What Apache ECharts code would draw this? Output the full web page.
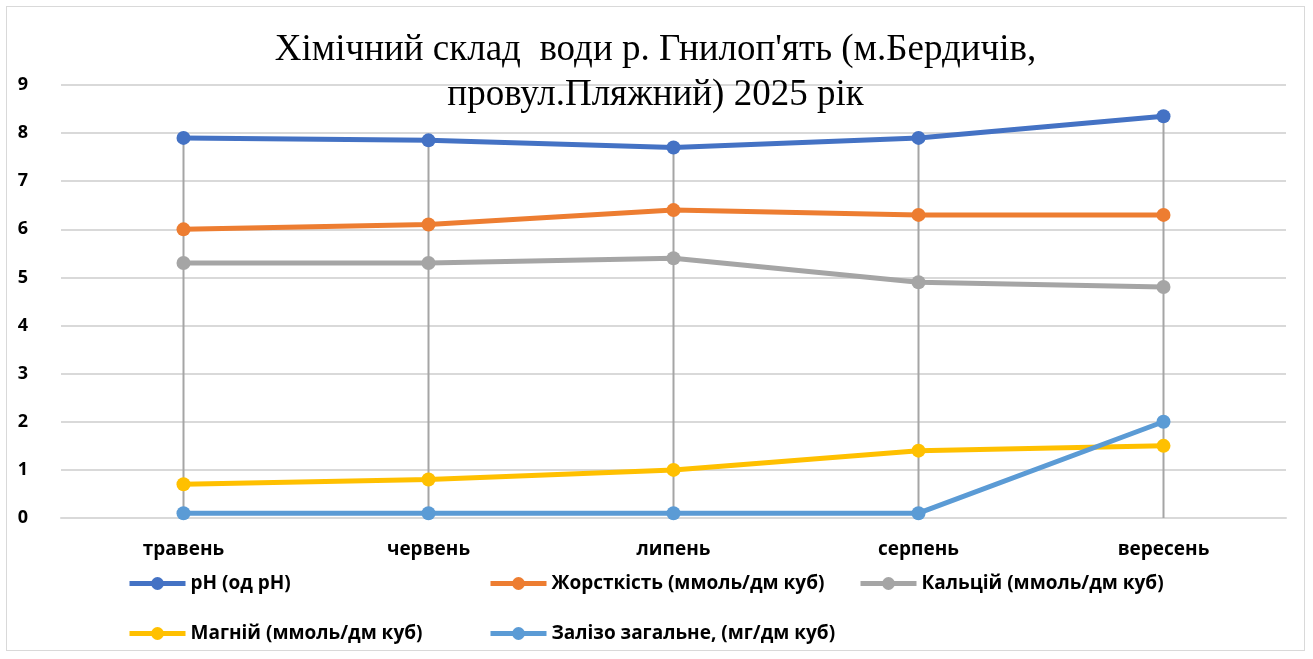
<!DOCTYPE html>
<html>
<head>
<meta charset="utf-8">
<script src="https://cdn.jsdelivr.net/npm/echarts@6/dist/echarts.min.js"></script>
<style>
  html, body { margin: 0; padding: 0; background: #fff; }
  #myChart { position: absolute; left: 6px; top: 6px; width: 1299px; height: 645px; border: 1px solid #d9d9d9; box-sizing: border-box; }
</style>
</head>
<body>
<div id="myChart"></div>
<script>
  let months = ['травень', 'червень', 'липень', 'серпень', 'вересень'];
  let ph = [7.9, 7.85, 7.7, 7.9, 8.35];
  let hardness = [6.0, 6.1, 6.4, 6.3, 6.3];
  let calcium = [5.3, 5.3, 5.4, 4.9, 4.8];
  let magnesium = [0.7, 0.8, 1.0, 1.4, 1.5];
  let iron = [0.1, 0.1, 0.1, 0.1, 2.0];

  let names = ['pH (од pH)', 'Жорсткість (ммоль/дм куб)', 'Кальцій (ммоль/дм куб)', 'Магній (ммоль/дм куб)', 'Залізо загальне, (мг/дм куб)'];
  let colors = ['#4472C4', '#ED7D31', '#A5A5A5', '#FFC000', '#5B9BD5'];
  let values = [ph, hardness, calcium, magnesium, iron];

  // drop lines: from the highest point of each month down to the axis
  let dropTop = months.map((m, i) => Math.max(...values.map(v => v[i])));

  let myChart = echarts.init(document.getElementById('myChart'));

  let series = [{
    name: 'drop',
    type: 'bar',
    data: dropTop,
    barWidth: 2,
    silent: true,
    itemStyle: { color: '#a5a5a5' },
    z: 1
  }];
  names.forEach((n, i) => {
    series.push({
      name: n,
      type: 'line',
      data: values[i],
      symbol: 'circle',
      symbolSize: 14,
      lineStyle: { width: 5, color: colors[i] },
      itemStyle: { color: colors[i] },
      z: 2 + i
    });
  });

  // legend placed as Excel does: 3 columns, 2 rows
  let legendPos = [[120, 567], [481, 567], [851, 567], [120, 617], [481, 617]];
  let legends = names.map((n, i) => ({
    data: [n],
    left: legendPos[i][0],
    top: legendPos[i][1],
    padding: 0,
    itemWidth: 56,
    itemHeight: 16,
    lineStyle: { width: 5 },
    textStyle: { fontFamily: 'Open Sans', fontWeight: 'bold', fontSize: 19, color: '#000' }
  }));

  let options = {
    color: colors,
    animation: false,
    title: {
      text: "Хімічний склад  води р. Гнилоп'ять (м.Бердичів,\nпровул.Пляжний) 2025 рік",
      left: 'center',
      top: 16,
      textStyle: { fontFamily: 'Liberation Serif', fontWeight: 'normal', fontSize: 37, lineHeight: 45, color: '#000' }
    },
    legend: legends,
    grid: { left: 54, right: 18, top: 78, bottom: 132 },
    xAxis: {
      type: 'category',
      data: months,
      axisLine: { show: true, lineStyle: { color: '#d9d9d9', width: 2 } },
      axisTick: { show: false },
      axisLabel: { margin: 22, fontFamily: 'Open Sans', fontWeight: 'bold', fontSize: 19, color: '#000' }
    },
    yAxis: {
      type: 'value',
      min: 0,
      max: 9,
      interval: 1,
      axisLine: { show: false },
      axisTick: { show: false },
      splitLine: { lineStyle: { color: '#d9d9d9', width: 2 } },
      axisLabel: { margin: 33, fontFamily: 'Open Sans', fontWeight: 'bold', fontSize: 18, color: '#000' }
    },
    series: series
  };
  myChart.setOption(options);
</script>
</body>
</html>
